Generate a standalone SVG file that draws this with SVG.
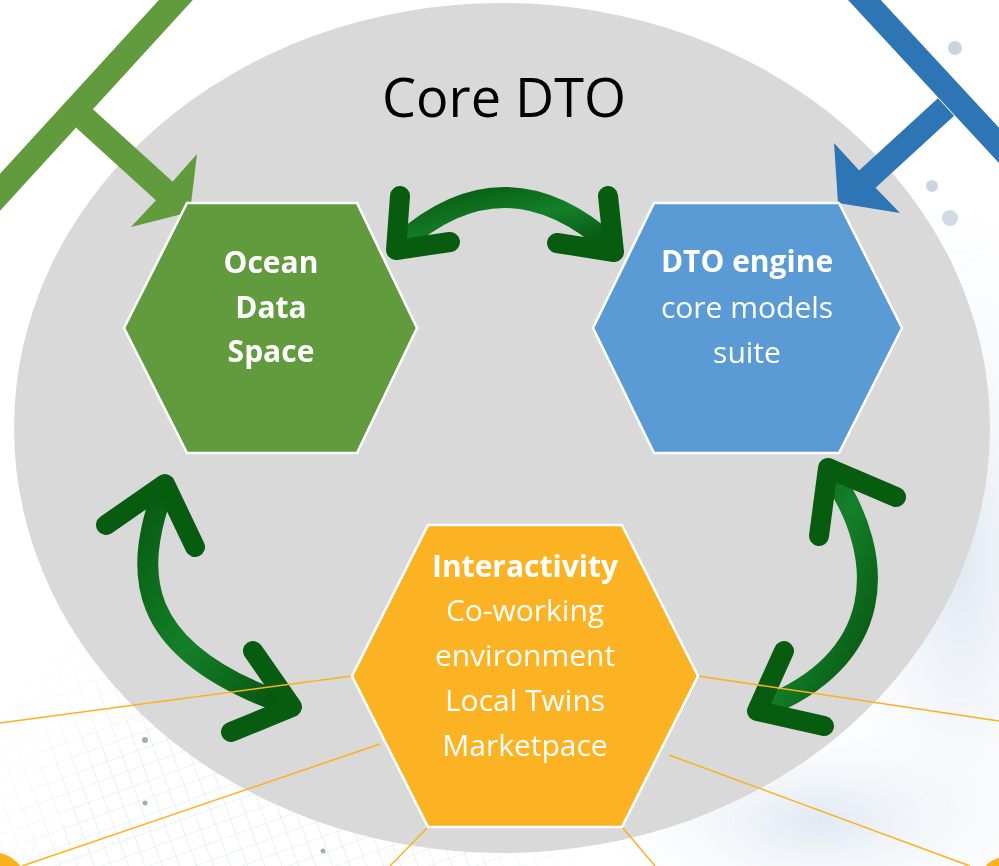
<svg xmlns="http://www.w3.org/2000/svg" width="999" height="866" viewBox="0 0 999 866">
<style>
.hex{stroke:#ffffff;stroke-width:2.5;stroke-linejoin:miter}
.t{font-family:"Open Sans","Liberation Sans",sans-serif;fill:#ffffff;text-anchor:middle;font-size:30px}
.b{font-weight:bold}
.curve{fill:none;stroke:url(#dg);stroke-width:21;stroke-linecap:round;stroke-linejoin:round}
.head{fill:none;stroke:#075c10;stroke-width:20;stroke-linecap:round;stroke-linejoin:round}
.ol{stroke:#fbb21e;stroke-width:1.5;fill:none}
.gbar{stroke:#629a3e;stroke-width:25;fill:none}
.bbar{stroke:#2e75b6;stroke-width:24;fill:none}
</style>
<defs>
<linearGradient id="dg" x1="0" y1="0" x2="1" y2="1">
<stop offset="0" stop-color="#075a10"/>
<stop offset="0.5" stop-color="#14802a"/>
<stop offset="1" stop-color="#064f0d"/>
</linearGradient>
<pattern id="mesh" width="16" height="16" patternUnits="userSpaceOnUse" patternTransform="rotate(-20)">
<path d="M0 0H16M0 0V16" stroke="#b8c8da" stroke-width="1.2" fill="none"/>
</pattern>
<radialGradient id="haze" cx="0.5" cy="0.5" r="0.5">
<stop offset="0" stop-color="#d6e1ee"/>
<stop offset="1" stop-color="#ffffff" stop-opacity="0"/>
</radialGradient>
<radialGradient id="fade" cx="0.5" cy="0.5" r="0.5">
<stop offset="0.6" stop-color="#ffffff"/>
<stop offset="1" stop-color="#ffffff" stop-opacity="0"/>
</radialGradient>
<mask id="meshmask"><circle cx="270" cy="880" r="330" fill="url(#fade)"/></mask>
</defs>
<rect width="999" height="866" fill="#ffffff"/>
<g id="background" opacity="0.75">
<ellipse cx="960" cy="560" rx="160" ry="420" fill="url(#haze)"/>
<ellipse cx="820" cy="820" rx="260" ry="120" fill="url(#haze)"/>
<rect x="0" y="540" width="620" height="326" fill="url(#mesh)" mask="url(#meshmask)" opacity="0.6"/>
<circle cx="955" cy="48" r="7" fill="#b9c7d8"/>
<circle cx="932" cy="186" r="6" fill="#b9c7d8"/>
<circle cx="950" cy="218" r="8" fill="#c3cfdd"/>
<circle cx="145" cy="740" r="3" fill="#8c8f99"/>
<circle cx="145" cy="803" r="2.5" fill="#8c8f99"/>
<circle cx="323" cy="851" r="2.5" fill="#8c8f99"/>
</g>
<ellipse id="core" cx="502" cy="428" rx="488" ry="425" fill="#d9d9d9"/>
<text x="504" y="117" font-family="'Open Sans','Liberation Sans',sans-serif" font-size="54" fill="#000000" text-anchor="middle">Core DTO</text>
<g id="connectors">
<g id="green-feed">
<line class="gbar" x1="-20" y1="214" x2="196" y2="-22"/>
<line class="gbar" x1="84" y1="118" x2="172" y2="198"/>
<polygon points="197,154 190,212 131,227 160,196" fill="#629a3e"/>
</g>
<g id="blue-feed">
<line class="bbar" x1="844" y1="-22" x2="1020" y2="168"/>
<line class="bbar" x1="946" y1="107" x2="850" y2="195"/>
<polygon points="834,143 838,203 900,213 868,180" fill="#2e75b6"/>
</g>
<g id="top-arrow">
<path class="curve" d="M400,244 Q505,150 612,246"/>
<path class="head" d="M400,196 L396,250 L450,242"/>
<path class="head" d="M608,196 L614,252 L557,243"/>
</g>
<g id="left-arrow">
<path class="curve" d="M163,490 C135,570 130,650 288,705"/>
<path class="head" d="M106,525 L165,484 L195,547"/>
<path class="head" d="M253,651 L292,707 L231,732"/>
</g>
<g id="right-arrow">
<path class="curve" d="M830,472 C890,560 885,660 762,708"/>
<path class="head" d="M819,536 L828,468 L896,497"/>
<path class="head" d="M784,651 L757,711 L824,726"/>
</g>
<g id="orange-lines">
<line class="ol" x1="352" y1="676" x2="0" y2="723"/>
<line class="ol" x1="380" y1="744" x2="22" y2="866"/>
<line class="ol" x1="428" y1="827" x2="390" y2="866"/>
<line class="ol" x1="698" y1="676" x2="999" y2="721"/>
<line class="ol" x1="669" y1="755" x2="970" y2="866"/>
<line class="ol" x1="622" y1="827" x2="655" y2="866"/>
<circle cx="-8" cy="888" r="36" fill="#fbb21e"/>
<circle cx="1012" cy="893" r="38" fill="#fbb21e"/>
</g>
</g>
<g id="ocean-data-space">
<polygon class="hex" points="187,203 357,203 417,328 357,453 187,453 124,328" fill="#629a3e"/>
<text class="t b"><tspan x="271" y="273">Ocean</tspan><tspan x="271" y="318">Data</tspan><tspan x="271" y="362">Space</tspan></text>
</g>
<g id="dto-engine">
<polygon class="hex" points="654,203 839,203 902,328 839,453 654,453 593,328" fill="#5b9bd5"/>
<text class="t"><tspan x="747" y="272" class="b">DTO engine</tspan><tspan x="747" y="318">core models</tspan><tspan x="747" y="363">suite</tspan></text>
</g>
<g id="interactivity">
<polygon class="hex" points="428,525 622,525 698,676 622,827 428,827 352,676" fill="#fbb324"/>
<text class="t"><tspan x="525" y="577" class="b">Interactivity</tspan><tspan x="525" y="621">Co-working</tspan><tspan x="525" y="666">environment</tspan><tspan x="525" y="711">Local Twins</tspan><tspan x="525" y="756">Marketpace</tspan></text>
</g>
</svg>
